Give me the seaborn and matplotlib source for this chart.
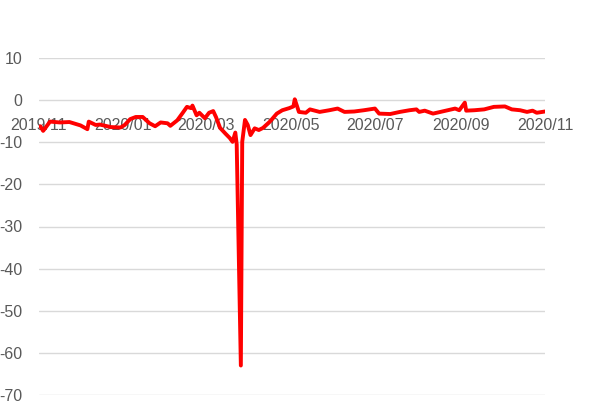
import matplotlib
matplotlib.use("Agg")
from matplotlib import pyplot as plt
import matplotlib.dates as mdates
import numpy as np
import pandas as pd
import seaborn as sns

# values
dates = ["2019-11-02", "2019-11-04", "2019-11-09", "2019-11-16", "2019-11-23",
         "2019-12-01", "2019-12-06", "2019-12-07", "2019-12-12", "2019-12-15",
         "2019-12-23", "2019-12-30", "2020-01-02", "2020-01-06", "2020-01-10",
         "2020-01-15", "2020-01-20", "2020-01-24", "2020-01-28", "2020-02-02",
         "2020-02-04", "2020-02-09", "2020-02-13", "2020-02-16", "2020-02-19",
         "2020-02-20", "2020-02-23", "2020-02-25", "2020-02-29", "2020-03-03",
         "2020-03-06", "2020-03-08", "2020-03-11", "2020-03-15", "2020-03-18",
         "2020-03-20", "2020-03-22", "2020-03-23", "2020-03-26", "2020-03-27",
         "2020-03-29", "2020-03-31", "2020-04-02", "2020-04-05", "2020-04-08",
         "2020-04-11", "2020-04-16", "2020-04-21", "2020-04-25", "2020-04-30",
         "2020-05-03", "2020-05-04", "2020-05-07", "2020-05-12", "2020-05-15",
         "2020-05-22", "2020-05-29", "2020-06-04", "2020-06-09", "2020-06-16",
         "2020-06-23", "2020-07-01", "2020-07-04", "2020-07-12", "2020-07-19",
         "2020-07-26", "2020-07-31", "2020-08-02", "2020-08-06", "2020-08-12",
         "2020-08-20", "2020-08-28", "2020-08-31", "2020-09-04", "2020-09-05",
         "2020-09-11", "2020-09-18", "2020-09-25", "2020-10-03", "2020-10-08",
         "2020-10-14", "2020-10-19", "2020-10-23", "2020-10-26", "2020-11-01"]
values = [-6.2, -7.3, -5.1, -5.3, -5.2,
          -6.0, -6.9, -5.1, -5.9, -5.8,
          -6.4, -6.5, -5.9, -4.5, -4.0,
          -4.0, -5.5, -6.2, -5.3, -5.5,
          -6.1, -4.8, -3.0, -1.6, -1.9,
          -1.3, -3.6, -3.0, -4.3, -3.0,
          -2.6, -4.0, -6.6, -8.0, -9.0,
          -9.9, -7.7, -10.5, -63.0, -9.9,
          -4.7, -5.9, -8.3, -6.7, -7.1,
          -6.6, -5.1, -3.2, -2.4, -1.9,
          -1.5, 0.2, -2.8, -3.0, -2.2,
          -2.8, -2.4, -2.0, -2.8, -2.7,
          -2.4, -2.0, -3.2, -3.3, -2.8,
          -2.4, -2.2, -2.8, -2.5, -3.2,
          -2.6, -2.0, -2.4, -0.6, -2.5,
          -2.4, -2.2, -1.6, -1.5, -2.2,
          -2.4, -2.8, -2.5, -3.0, -2.7]
yticks = [10, 0, -10, -20, -30, -40, -50, -60, -70]

df = pd.DataFrame({"date": pd.to_datetime(dates), "value": values})

sns.set_style("white")
plt.rcParams['font.family'] = ['Liberation Sans', 'DejaVu Sans']
plt.rcParams['axes.unicode_minus'] = False

fig = plt.figure(figsize=(5.89, 4.07), dpi=100)
ax = fig.add_axes([39 / 589, 1 - 395 / 407, (545 - 39) / 589, (395 - 58) / 407])

sns.lineplot(data=df, x="date", y="value", color="#ff0000", linewidth=2.8, ax=ax, zorder=3)

ax.set_xlim(pd.Timestamp("2019-11-01"), pd.Timestamp("2020-11-01"))
ax.set_ylim(-70, 10)
ax.set_yticks(yticks)
ax.yaxis.grid(True, color="#d9d9d9", linewidth=1)
ax.xaxis.grid(False)
ax.set_axisbelow(True)

ax.xaxis.set_major_locator(mdates.MonthLocator(bymonth=[1, 3, 5, 7, 9, 11]))
ax.xaxis.set_major_formatter(mdates.DateFormatter("%Y/%m"))
ax.spines['bottom'].set_position(('data', 0))
for s in ax.spines.values():
    s.set_visible(False)

ax.tick_params(axis="x", length=0, pad=13, labelsize=11.5, labelcolor="#595959")
ax.tick_params(axis="y", length=0, pad=12, labelsize=11.5, labelcolor="#595959")
ax.set_xlabel("")
ax.set_ylabel("")

fig.savefig("out.png", dpi=100)
